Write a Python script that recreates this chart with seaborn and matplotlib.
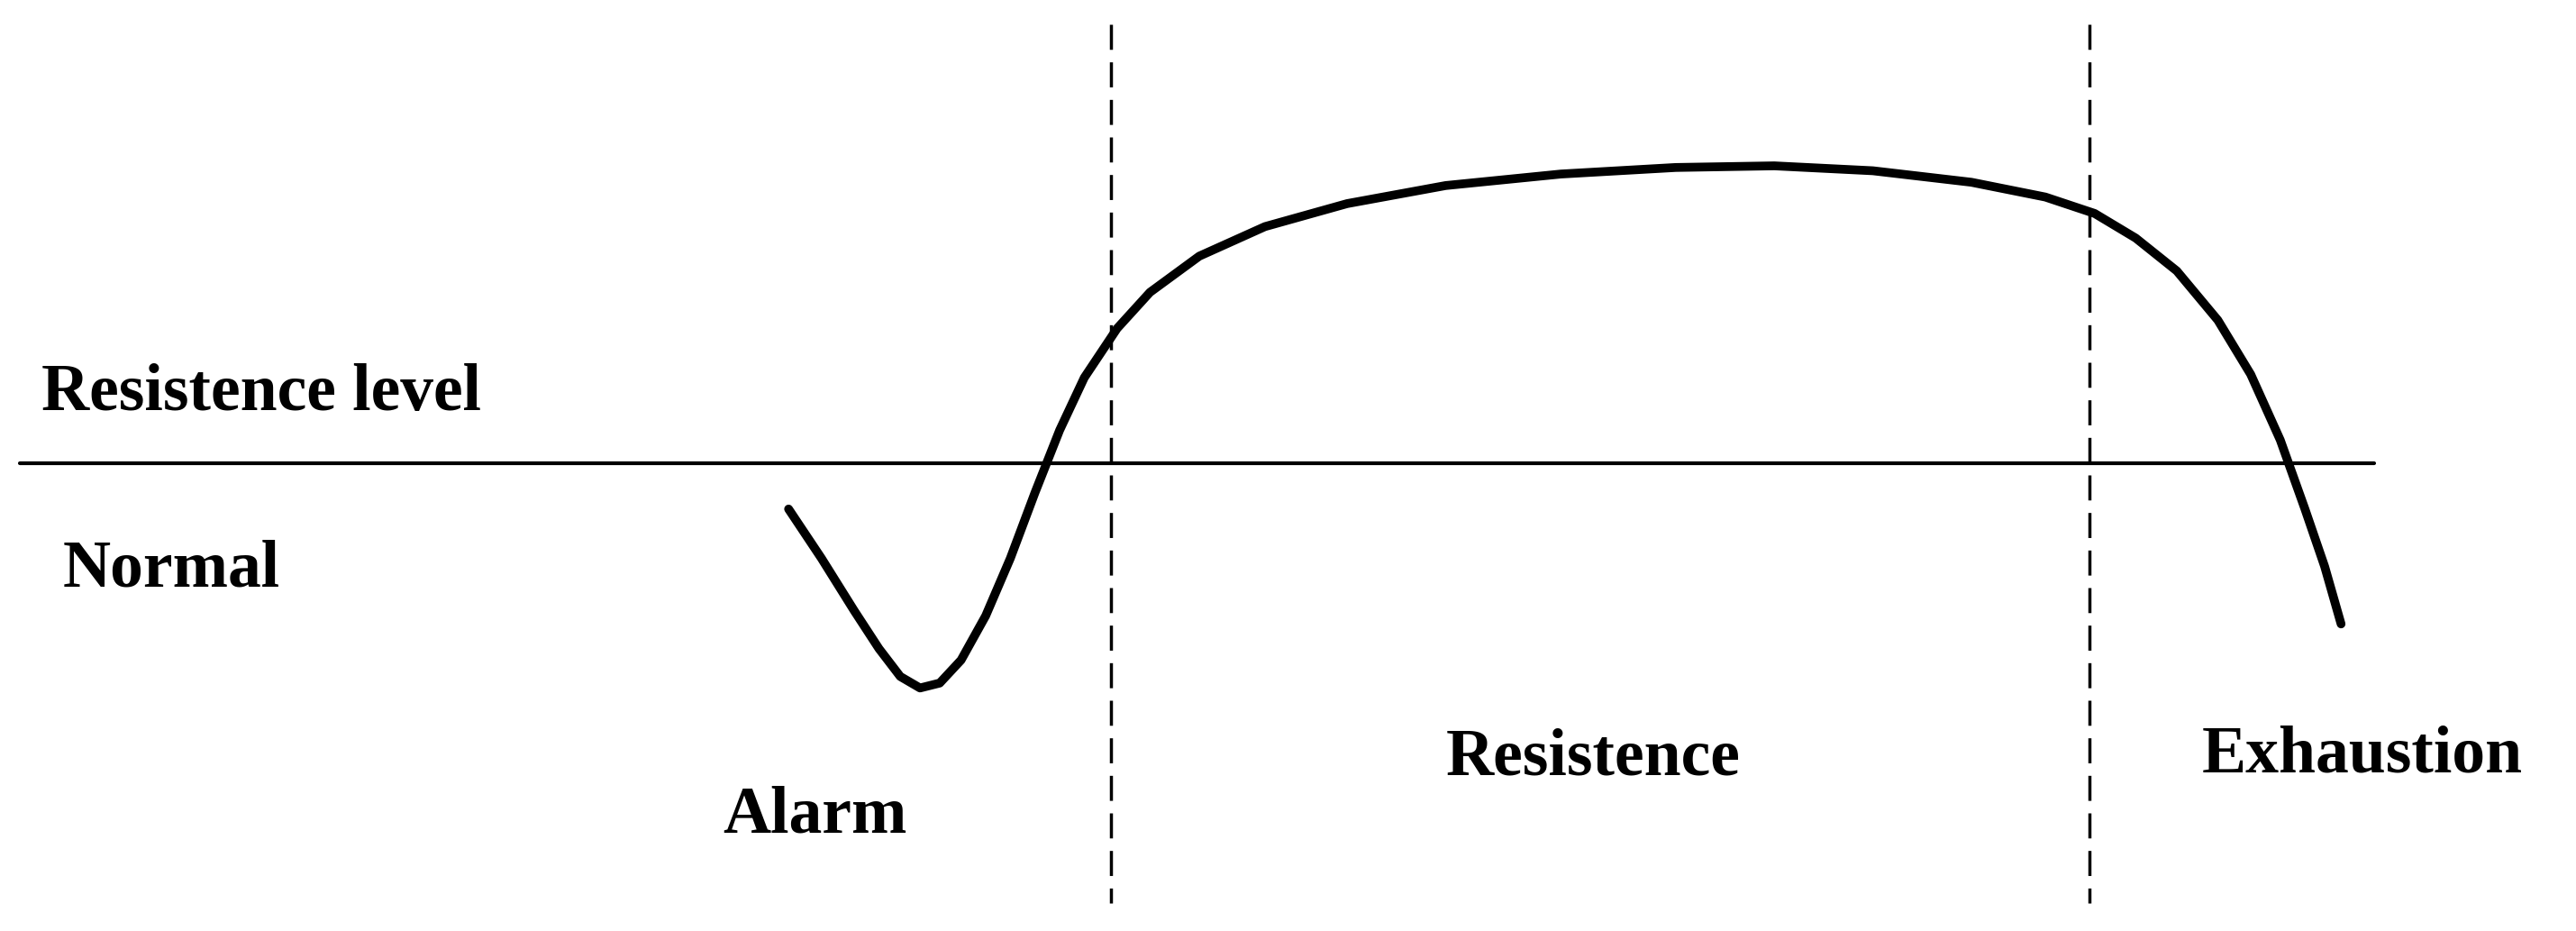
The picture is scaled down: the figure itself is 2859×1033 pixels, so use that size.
import matplotlib
matplotlib.use("Agg")
import matplotlib.pyplot as plt
import seaborn as sns
import pandas as pd

# curve (display coords, y grows downward)
curve_x = [480, 500, 520, 535, 548, 560, 572, 585, 600, 615, 630, 645, 660, 680, 700,
           730, 770, 820, 880, 950, 1020, 1080, 1140, 1200, 1245, 1275, 1300, 1325,
           1350, 1370, 1388, 1403, 1415, 1425]
curve_y = [310, 340, 372, 395, 412, 419, 416, 402, 375, 340, 300, 262, 230, 200, 178,
           156, 138, 124, 113, 106, 102, 101, 104, 111, 120, 130, 145, 165,
           195, 228, 268, 310, 345, 380]
level_y = 282
phase_bounds = [676, 1272]
labels = ["Resistence level", "Normal", "Alarm", "Resistence", "Exhaustion"]
label_pos = [(25, 240), (38, 347), (440, 497), (880, 462), (1340, 460)]

sns.set_theme(style="white")
plt.rcParams['font.family'] = ['Liberation Serif', 'DejaVu Serif']

fig = plt.figure(figsize=(28.59, 10.33), dpi=100)
ax = fig.add_axes([0, 0, 1, 1])
ax.set_xlim(0, 1568)
ax.set_ylim(567, 0)
ax.axis("off")

df = pd.DataFrame({"x": curve_x, "y": curve_y})
sns.lineplot(data=df, x="x", y="y", ax=ax, color="black", linewidth=7, sort=False,
             solid_joinstyle="round", solid_capstyle="round")

ax.plot([12, 1445], [level_y, level_y], color="black", linewidth=3)
for bx in phase_bounds:
    ax.plot([bx, bx], [15, 550], color="black", linewidth=2.5, linestyle=(0, (8, 4)))

for txt, (tx, ty) in zip(labels, label_pos):
    ax.text(tx, ty, txt, fontsize=53, fontweight="bold", color="black",
            ha="left", va="center")

fig.savefig("out.png", dpi=100)
